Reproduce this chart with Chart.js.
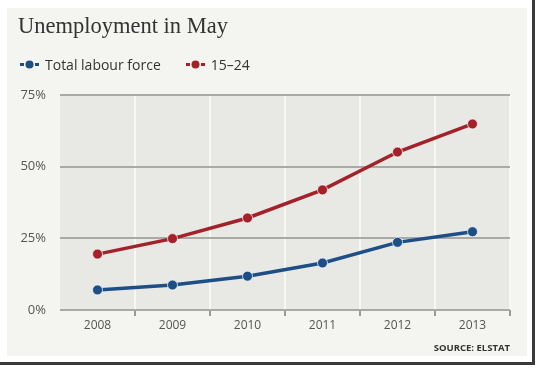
<!DOCTYPE html>
<html>
<head>
<meta charset="utf-8">
<script src="https://cdn.jsdelivr.net/npm/chart.js@4.4.0/dist/chart.umd.min.js"></script>
<style>
  html, body { margin: 0; padding: 0; background: #fff; }
  #frame {
    position: absolute; left: 0; top: 0; width: 532px; height: 362px;
    background: #fff;
    border-right: 3px solid #3a3a3a; border-bottom: 3px solid #3a3a3a;
  }
  #panel {
    position: absolute; left: 7px; top: 8px; width: 520px; height: 348px;
    background: #f4f4f0;
  }
  #grafico { position: absolute; left: 0; top: 0; }
  #titulo {
    position: absolute; left: 11px; top: 7px;
    font-family: 'Liberation Serif', serif; font-size: 22.5px; line-height: 22px;
    color: #333; white-space: nowrap;
  }
  #leyenda {
    position: absolute; left: 13px; top: 47px; height: 18px;
    display: flex; align-items: center;
    font-family: 'Open Sans', sans-serif; font-size: 14px; color: #333;
  }
  #leyenda .item { display: flex; align-items: center; margin-right: 25px; }
  #leyenda canvas { margin-right: 6px; }
</style>
</head>
<body>
<div id="frame">
  <div id="panel">
    <canvas id="grafico" width="520" height="348"></canvas>
    <div id="titulo">Unemployment in May</div>
    <div id="leyenda"></div>
  </div>
</div>
<script>
var años = ["2008", "2009", "2010", "2011", "2012", "2013"];
var total = [7.0, 8.7, 11.8, 16.4, 23.6, 27.3];
var jovenes = [19.5, 24.9, 32.1, 41.9, 55.1, 64.9];
var yTicks = [0, 25, 50, 75];

var azul = "#1d4f86";
var rojo = "#a3222a";

// marcador de la leyenda: guion - punto - guion
function marcador(color) {
  var c = document.createElement("canvas");
  c.width = 19; c.height = 10;
  var g = c.getContext("2d");
  g.fillStyle = color;
  g.fillRect(0, 4, 4, 3);
  g.fillRect(15, 4, 4, 3);
  g.beginPath();
  g.arc(9.5, 5.5, 4, 0, Math.PI * 2);
  g.fill();
  return c;
}

var fondoPlot = {
  id: "fondoPlot",
  beforeDraw: function (chart) {
    var a = chart.chartArea;
    var ctx = chart.ctx;
    ctx.save();
    ctx.fillStyle = "#e8e8e4";
    ctx.fillRect(a.left, a.top, a.right - a.left, a.bottom - a.top);
    ctx.restore();
  }
};

var ctx = document.getElementById("grafico").getContext("2d");
var grafico = new Chart(ctx, {
  type: "line",
  data: {
    labels: años,
    datasets: [{
      label: "Total labour force",
      data: total,
      borderColor: azul,
      backgroundColor: azul,
      pointBackgroundColor: azul,
      pointBorderColor: "rgba(255,255,255,0.7)",
      pointBorderWidth: 1,
      pointRadius: 5,
      borderWidth: 3.5,
      tension: 0
    }, {
      label: "15–24",
      data: jovenes,
      borderColor: rojo,
      backgroundColor: rojo,
      pointBackgroundColor: rojo,
      pointBorderColor: "rgba(255,255,255,0.7)",
      pointBorderWidth: 1,
      pointRadius: 5,
      borderWidth: 3.5,
      tension: 0
    }]
  },
  options: {
    responsive: false,
    animation: false,
    layout: { padding: { left: 0, right: 17, top: 87, bottom: 0 } },
    plugins: {
      tooltip: { enabled: false },
      legend: { display: false },
      subtitle: {
        display: true,
        position: "bottom",
        align: "end",
        text: "SOURCE: ELSTAT",
        color: "#333",
        font: { family: "'Open Sans', sans-serif", size: 9.5, weight: "bold" },
        padding: { top: 6, bottom: 2 }
      }
    },
    scales: {
      x: {
        offset: true,
        border: { display: false },
        afterFit: function (scale) { scale.height = 26.6; },
        grid: {
          offset: true,
          color: function (c) {
            return (c.index === 0) ? "rgba(0,0,0,0)" : "#f7f7f4";
          },
          tickColor: function (c) {
            return (c.index === 0) ? "rgba(0,0,0,0)" : "#999";
          },
          lineWidth: 2,
          tickLength: 6
        },
        ticks: {
          color: "#555",
          font: { family: "'Open Sans', sans-serif", size: 12 },
          padding: 2
        }
      },
      y: {
        min: 0,
        max: 75,
        border: { display: false },
        afterBuildTicks: function (scale) {
          scale.ticks = yTicks.map(function (v) { return { value: v }; });
        },
        afterFit: function (scale) { scale.width = 53; },
        grid: {
          color: "#a9a9a5",
          lineWidth: 2,
          drawTicks: false
        },
        ticks: {
          color: "#555",
          font: { family: "'Open Sans', sans-serif", size: 13 },
          padding: 14,
          callback: function (v) { return v + "%"; }
        }
      }
    }
  },
  plugins: [fondoPlot]
});

// leyenda en HTML con los mismos datasets
var leyenda = document.getElementById("leyenda");
grafico.data.datasets.forEach(function (ds) {
  var item = document.createElement("div");
  item.className = "item";
  item.appendChild(marcador(ds.borderColor));
  var t = document.createElement("span");
  t.textContent = ds.label;
  item.appendChild(t);
  leyenda.appendChild(item);
});
</script>
</body>
</html>
